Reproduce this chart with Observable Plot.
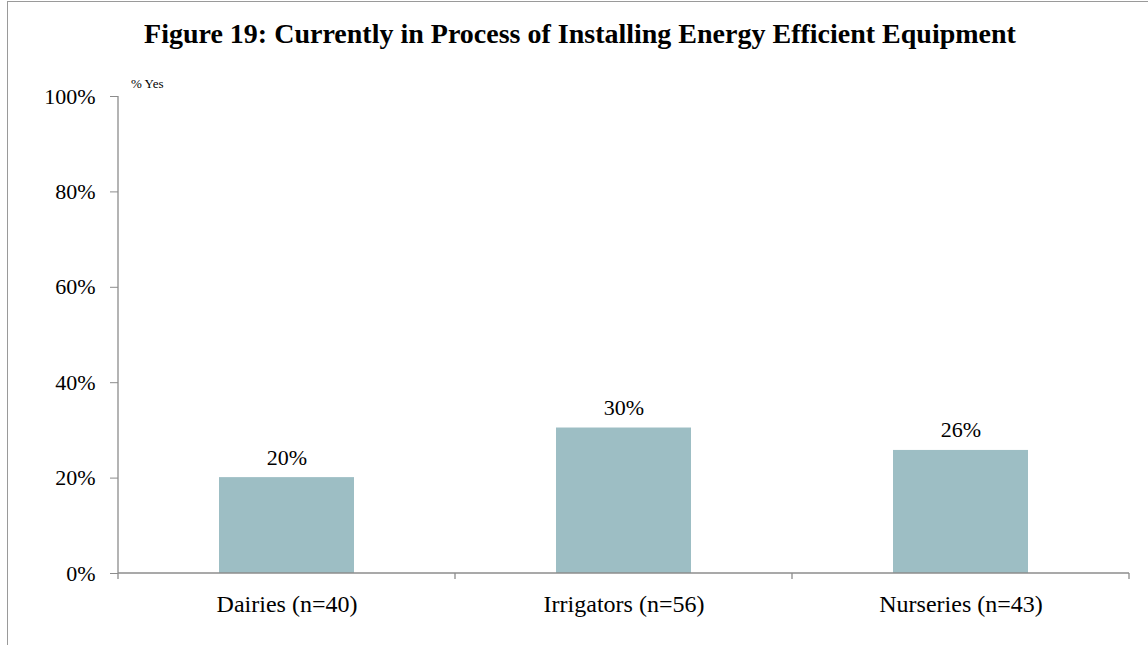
<!DOCTYPE html>
<html><head><meta charset="utf-8">
<script src="https://cdn.jsdelivr.net/npm/d3@7"></script>
<script src="https://cdn.jsdelivr.net/npm/@observablehq/plot@0.6"></script>
<style>
body{margin:0;background:#fff;}
#wrap{position:relative;width:1148px;height:645px;overflow:hidden;font-family:"Liberation Serif","Times New Roman",serif;color:#000;}
#frame{position:absolute;left:7px;top:1px;width:1200px;height:700px;border-left:1.5px solid #9a9a9a;border-top:1.5px solid #9a9a9a;}
#title{position:absolute;left:0;top:20px;width:1160px;text-align:center;font-weight:bold;font-size:28px;line-height:28px;white-space:nowrap;}
#ylabel{position:absolute;left:131px;top:77px;font-size:13px;line-height:13px;}
#chart{position:absolute;left:0;top:0;}
#chart svg, #chart svg text{font-family:"Liberation Serif","Times New Roman",serif !important;}
</style>
</head><body>
<div id="wrap">
  <div id="frame"></div>
  <div id="chart"></div>
  <div id="title">Figure 19: Currently in Process of Installing Energy Efficient Equipment</div>
  <div id="ylabel">% Yes</div>
</div>
<script>
const categories = ["Dairies (n=40)", "Irrigators (n=56)", "Nurseries (n=43)"];
const values = [0.201, 0.305, 0.258];
const valueLabels = ["20%", "30%", "26%"];
const yTicks = [0, 0.2, 0.4, 0.6, 0.8, 1];

const data = categories.map((c, i) => ({category: c, value: values[i], label: valueLabels[i]}));
const serif = "Liberation Serif";

function axisLines(index, scales, values, dims) {
  const {width, marginLeft, marginRight} = dims;
  const x = scales.x, y = scales.y;
  const y0 = y(0), y1 = y(1);
  const bw = x.bandwidth(), step = x.step();
  const g = d3.create("svg:g").attr("stroke", "#8c8c8c").attr("stroke-width", 1.3).attr("fill", "none");
  g.append("line").attr("x1", marginLeft).attr("x2", marginLeft).attr("y1", y1).attr("y2", y0);
  g.append("line").attr("x1", marginLeft).attr("x2", width - marginRight).attr("y1", y0).attr("y2", y0);
  const bounds = categories.map(c => x(c) + bw / 2 - step / 2);
  bounds.push(x(categories[categories.length - 1]) + bw / 2 + step / 2);
  for (const b of bounds) {
    g.append("line").attr("x1", b).attr("x2", b).attr("y1", y0).attr("y2", y0 + 6);
  }
  return g.node();
}

const chart = Plot.plot({
  width: 1148,
  height: 645,
  marginLeft: 118,
  marginRight: 19,
  marginTop: 96,
  marginBottom: 72,
  style: "font-family: 'Liberation Serif', serif; background: transparent; color: #000;",
  x: {domain: categories, paddingInner: 0.6, paddingOuter: 0.3, axis: null},
  y: {domain: [0, 1], axis: null},
  marks: [
    Plot.barY(data, {x: "category", y: "value", fill: "#9dbec4"}),
    Plot.text(data, {x: "category", y: "value", text: "label", dy: -20, fontSize: 22, fontFamily: serif, fill: "#000"}),
    Plot.axisY(yTicks, {tickSize: 8, tickPadding: 15, tickFormat: d3.format(".0%"), stroke: "#8c8c8c", fill: "#000", fontSize: 22, fontFamily: serif, label: null}),
    Plot.axisX({tickSize: 0, tickPadding: 21, fontSize: 24, fontFamily: serif, fill: "#000", label: null}),
    axisLines
  ]
});
document.getElementById("chart").appendChild(chart);
</script>
</body></html>
